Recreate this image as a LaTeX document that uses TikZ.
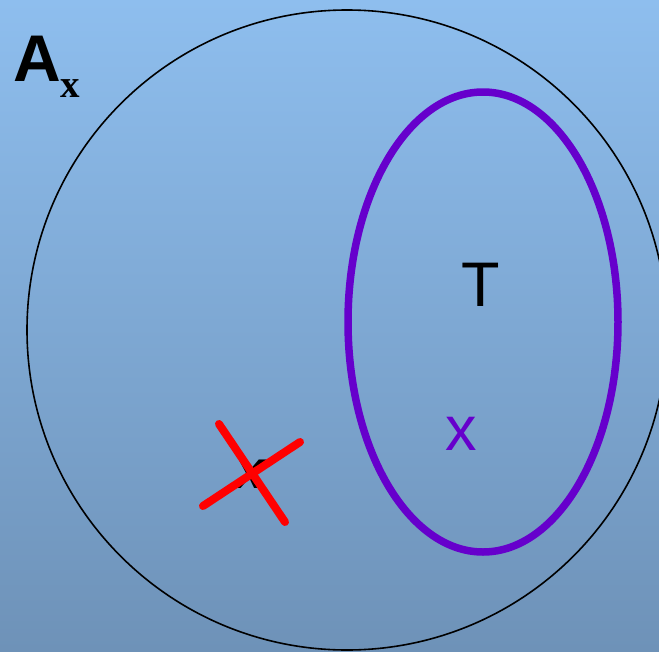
\documentclass[tikz,border=0pt]{standalone}
\usepackage{fontspec}
\setmainfont{Liberation Sans}
\newfontfamily\subfont{Liberation Serif}
\definecolor{cSkyTop}{HTML}{8EBEEE}
\definecolor{cSkyBot}{HTML}{6E92B8}
\definecolor{cSet}{HTML}{6600CC}
\definecolor{cCross}{HTML}{FF0000}

\begin{document}
\begin{tikzpicture}[
  x=1pt, y=-1pt,
  lbl/.style   = {font=\fontsize{63}{70}\selectfont, inner sep=0pt},
  sub/.style   = {font=\subfont\bfseries\fontsize{39}{44}\selectfont, inner sep=0pt},
  whole/.style = {draw=black, line width=1.6pt},
  part/.style  = {draw=cSet, line width=7.5pt},
  cross/.style = {draw=cCross, line width=8pt, line cap=round},
]
% page = picture, in image pixels (y down)
\useasboundingbox (0,0) rectangle (659,651);
\shade[top color=cSkyTop, bottom color=cSkyBot] (0,0) rectangle (659,651);
\clip (0,0) rectangle (659,651);

\draw[whole] (347,330) circle [radius=320];
\draw[part]  (483,322) ellipse [x radius=135, y radius=230];

\node[lbl, font=\bfseries\fontsize{66}{72}\selectfont] (aLbl) at (37,59) {A};
\node[sub, anchor=center]                          (aSub) at (70,89) {x};
\node[lbl]                                         (tLbl) at (481,285) {T};
\node[lbl, text=cSet]                              (xIn)  at (461,434) {x};
\node[lbl, font=\bfseries\itshape\fontsize{54}{60}\selectfont] (xOut) at (251,474) {x};

% struck out
\draw[cross] (219,424) -- (285,522);
\draw[cross] (203,506) -- (300,442);
\end{tikzpicture}
\end{document}
